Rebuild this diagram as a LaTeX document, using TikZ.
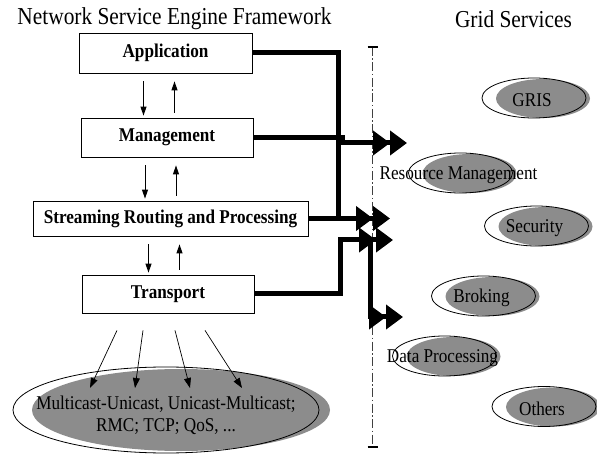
\documentclass[tikz,border=0pt]{standalone}
\usepackage{fontspec}
\setmainfont{Liberation Serif}[FakeStretch=0.88]
\usetikzlibrary{arrows.meta}

\definecolor{svcgray}{gray}{0.55}

\begin{document}
\begin{tikzpicture}[x=1pt,y=-1pt,
        layer/.style={draw,line width=0.8pt,inner sep=0pt,minimum height=38pt,font=\fontsize{19.5}{22}\selectfont\bfseries},
        bus/.style={line width=5pt},
        link/.style={line width=5pt,-{Triangle[length=17pt,width=24pt]Triangle[length=17pt,width=24pt]}},
        updown/.style={line width=1pt,-{Triangle[length=9pt,width=6pt]}},
        fan/.style={line width=0.7pt,-{Triangle[length=10pt,width=7pt]}},
        divider/.style={black!75,line width=0.8pt,dash pattern=on 9pt off 2.5pt on 1.5pt off 2.5pt},
        svc/.style={font=\fontsize{19.5}{22}\selectfont}]
        \useasboundingbox (0,0) rectangle (597,454);
        \node (title) at (174.5,19) {\fontsize{24.3}{27}\selectfont Network Service Engine Framework};
        \node (grid) at (513.5,19) {\fontsize{24.3}{27}\selectfont Grid Services};
        \node [layer,minimum width=173pt,minimum height=40pt] (app) at (165.5,53) {Application};
        \node [layer,minimum width=172pt,minimum height=39pt] (mgmt) at (167,137.5) {Management};
        \node [layer,minimum width=275pt,minimum height=35pt] (srp) at (170.5,218.5) {Streaming Routing and Processing};
        \node [layer,minimum width=172pt,minimum height=38pt] (trans) at (168,294) {Transport};
        \foreach \a/\b in {app/mgmt,mgmt/srp,srp/trans} {
            \draw [updown] ([xshift=-22pt,yshift=-8pt]\a.south) -- ([xshift=-22pt,yshift=2pt]\a.south |- \b.north);
            \draw [updown] ([xshift=9pt,yshift=5pt]\a.south |- \b.north) -- ([xshift=9pt,yshift=-8pt]\a.south);
        }
        \coordinate (top) at (372.5,47);
        \coordinate (bot) at (372.5,447);
        \draw [divider] (top) -- (bot);
        \draw [line width=2pt] ([xshift=-5pt]top) -- ([xshift=5pt]top);
        \draw [line width=2pt] ([xshift=-5pt]bot) -- ([xshift=5pt]bot);
        \coordinate (appdown) at (338,218.5);
        \coordinate (rmtip) at (407,143);
        \coordinate (sptip) at (390,218.5);
        \coordinate (trtip) at (393,240);
        \coordinate (dpfork) at (370,240);
        \coordinate (dptip) at (403,317);
        \draw [bus] (app.east) -| (appdown);
        \draw [link] (mgmt.east) -- ++(89,0) |- (rmtip);
        \draw [link] (srp.east) -- (sptip);
        \draw [link] (trans.east) -- ++(86,0) |- (trtip);
        \draw [link] (dpfork) |- (dptip);
        \foreach \n/\t/\x/\y in {gris/GRIS/534/98,rm/Resource Management/460.5/173,sec/Security/536.5/226,brk/Broking/483.5/296,dp/Data Processing/444.5/356,oth/Others/544/406.5} {
            \fill [svcgray] (\x+9,\y+0.5) ellipse (47 and 19.5);
            \draw [line width=0.8pt] (\x,\y) ellipse (52 and 20);
            \node [svc] (\n) at (\x-2,\y+2) {\t};
        }
        \fill [svcgray] (181,410) ellipse (149 and 41);
        \draw [line width=0.8pt] (166,410) ellipse (153 and 43);
        \node [svc,align=center] (proto) at (166,415) {Multicast-Unicast, Unicast-Multicast;\\RMC; TCP; QoS, ...};
        \foreach \s/\e in {-51/-76,-25/-31,7/24,37/76}
            \draw [fan] ([xshift=\s pt,yshift=-17pt]trans.south) -- ([xshift=\e pt,yshift=27pt]proto.center);
    \end{tikzpicture}
\end{document}
